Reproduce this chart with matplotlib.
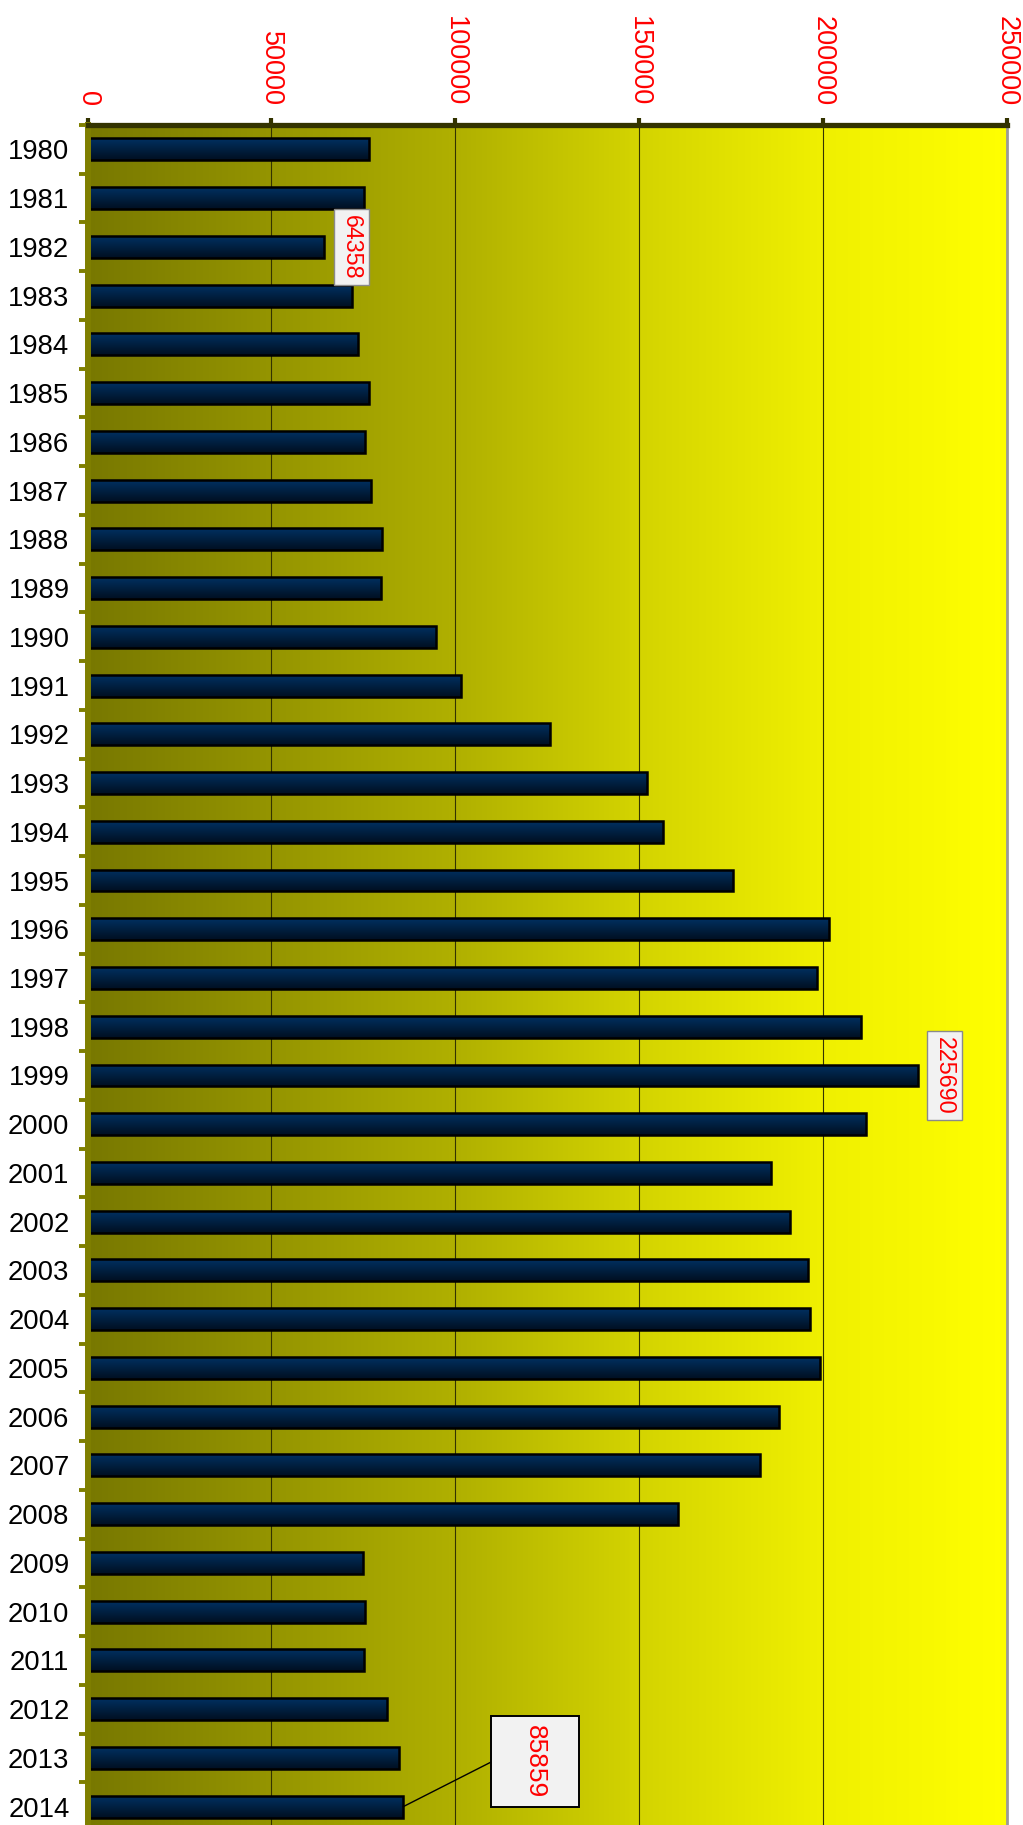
#!/usr/bin/env python3
"""Horizontal bar chart of yearly totals, 1980-2014, on a yellow gradient."""

import matplotlib

matplotlib.use("Agg")
import matplotlib.pyplot as plt
import matplotlib.transforms as mtransforms
import numpy as np
from matplotlib.lines import Line2D
from matplotlib.patches import Rectangle

years = list(range(1980, 2015))
values = [
    76600, 75070, 64358, 71810, 73610, 76600, 75340, 77140, 80050, 79780,
    94640, 101440, 125630, 152160, 156340, 175540, 201740, 198470, 210250, 225690,
    211600, 185700, 190870, 196030, 196570, 199290, 188040, 182880, 160510, 74830,
    75560, 75150, 81490, 84610, 85859,
]
x_ticks = [0, 50000, 100000, 150000, 200000, 250000]
boxed_years = [1982, 1999]
callout_year = 2014

plt.rcParams["font.family"] = ["Liberation Sans", "DejaVu Sans"]

W, H = 1023, 1825
fig = plt.figure(figsize=(W / 100, H / 100), dpi=100)
ax = fig.add_axes([87.5 / W, 1 - 1831 / H, (1007 - 87.5) / W, (1831 - 125) / H])

ylim = (years[-1] + 0.5, years[0] - 0.5)
xlim = (0, x_ticks[-1])

# background: olive on the left fading to pure yellow on the right
pos = np.linspace(0, 1, 512)
level = np.interp(pos, [0, 0.2, 0.4, 0.6, 0.8, 1.0], [120, 149, 176, 212, 240, 255]) / 255
bg = np.zeros((1, pos.size, 3))
bg[0, :, 0] = level
bg[0, :, 1] = level
ax.imshow(bg, extent=(xlim[0], xlim[1], ylim[0], ylim[1]), aspect="auto", zorder=0)

# bars with a vertical navy-to-black shading
bars = ax.barh(years, values, height=0.45, facecolor="none", edgecolor="black",
               linewidth=1.8, zorder=2)
shade = np.linspace(0, 1, 64)[:, None]
top_col = np.array([0.0, 0.19, 0.38])
bot_col = np.array([0.0, 0.06, 0.13])
grad = (top_col * (1 - shade) + bot_col * shade)[:, None, :].repeat(2, axis=1)
for rect in bars:
    x0, y0 = rect.get_x(), rect.get_y()
    im = ax.imshow(grad, extent=(x0, x0 + rect.get_width(), y0 + rect.get_height(), y0),
                   aspect="auto", origin="upper", zorder=1.9)
    im.set_clip_path(rect)

ax.set_xlim(*xlim)
ax.set_ylim(*ylim)

# axes styling
ax.xaxis.tick_top()
ax.set_xticks(x_ticks)
ax.set_xticklabels([str(t) for t in x_ticks], rotation=-90, color="red", fontsize=19.5)
ax.tick_params(axis="x", direction="out", length=5.4, width=3, color="#333300", pad=8)
ax.grid(axis="x", color="#333300", linewidth=0.8)
ax.set_axisbelow(True)

ax.set_yticks(years)
ax.set_yticklabels([str(y) for y in years], fontsize=19.8)
ax.tick_params(axis="y", which="major", length=0, pad=13)
ax.set_yticks([y - 0.5 for y in years], minor=True)
ax.tick_params(axis="y", which="minor", direction="out", length=6.5, width=2.8,
               color="#808000")

ax.spines["top"].set_color("#333300")
ax.spines["top"].set_linewidth(3.8)
ax.spines["left"].set_color("#7f7f00")
ax.spines["left"].set_linewidth(4.3)
ax.spines["right"].set_color("#9a9a9a")
ax.spines["right"].set_linewidth(2)
ax.spines["bottom"].set_visible(False)

# value labels in small boxes next to selected bars
for yr in boxed_years:
    v = values[years.index(yr)]
    ax.annotate(str(v), xy=(v, yr), xytext=(19.5, 0), textcoords="offset points",
                rotation=-90, ha="center", va="center", color="red", fontsize=16.8,
                bbox=dict(boxstyle="square,pad=0.25", facecolor="#f2f2f2",
                          edgecolor="#8a8a8a", linewidth=1),
                zorder=10, annotation_clip=False)

# callout for the last year, box joined to the bar end by a line
v = values[years.index(callout_year)]
pts = mtransforms.Affine2D().scale(fig.dpi / 72) + \
    mtransforms.ScaledTranslation(v, callout_year, ax.transData)
dx, dy, bw, bh = 63.4, 32.2, 63.4, 65.5
ax.add_line(Line2D([0, dx], [0, dy], color="black", linewidth=1, transform=pts,
                   zorder=9, clip_on=False))
ax.add_patch(Rectangle((dx, dy - bh / 2), bw, bh, facecolor="#f2f2f2", edgecolor="black",
                       linewidth=1.4, transform=pts, zorder=9, clip_on=False))
ax.text(dx + bw / 2, dy, str(v), rotation=-90, ha="center", va="center", color="red",
        fontsize=19, transform=pts, zorder=10, clip_on=False)

fig.savefig("out.png", dpi=100)
